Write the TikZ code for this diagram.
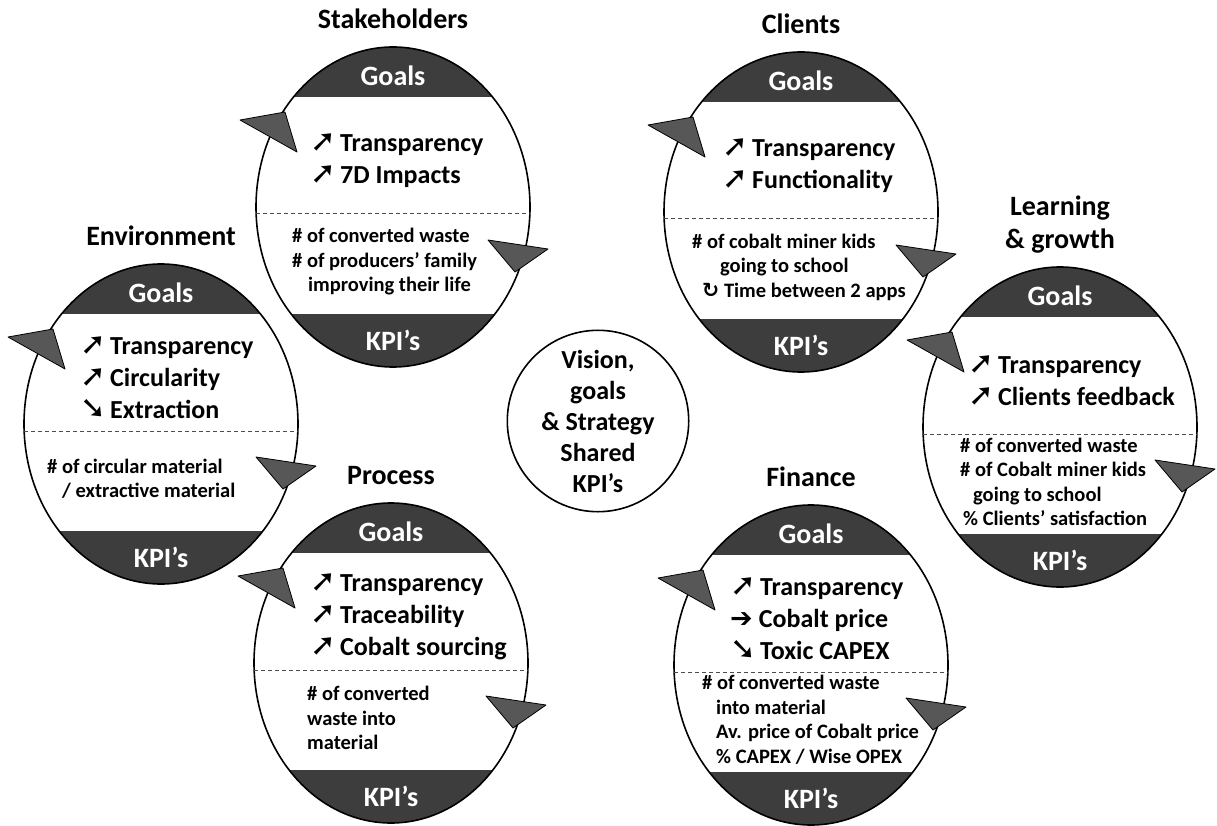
\documentclass[tikz,border=0pt]{standalone}
\usepackage{fontspec}
\setmainfont{Carlito}
\newfontfamily\symfont{DejaVu Sans}
\usetikzlibrary{positioning}

\definecolor{bandgray}{HTML}{3D3D3D}
\definecolor{headgray}{HTML}{575757}

% pfeile vor den zielen
\newcommand\arrowglyph[2]{{\symfont\bfseries\fontsize{#1}{#1}\selectfont #2}}
\newcommand\goup{\arrowglyph{31pt}{➚}\hspace{4pt}}
\newcommand\godown{\arrowglyph{31pt}{➘}\hspace{4pt}}
\newcommand\goflat{\arrowglyph{27pt}{➔}\hspace{6pt}}
\newcommand\gocycle{{\symfont\bfseries ↻}\ }

% #1 name, #2 mitte, #3 titel, #4 x ziele, #5 ziele, #6 x kpi, #7 kpi
\newcommand\kpicard[7]{%
  \begin{scope}[shift={(#2)}]
    \begin{scope}
      \clip (0,0) ellipse [x radius=137pt, y radius=160pt];
      \fill[bandgray] (-140,-165) rectangle (140,-110);
      \fill[bandgray] (-140,107) rectangle (140,165);
    \end{scope}
    \draw[ring] (0,0) ellipse [x radius=137pt, y radius=160pt];
    \draw[splitline] (-137,7) -- (137,7);
    % pfeilspitzen
    \path[head] (-153,-87) -- (-108,-95) -- (-96,-55) -- cycle;
    \path[head] (95,33) -- (155,42) -- (122,65) -- cycle;
    \node[cardtitle] (#1-title) at (0,-178) {#3};
    \node[bandtext] (#1-goals) at (0,-131) {Goals};
    \node[bandtext] (#1-kpis) at (0,133) {KPI’s};
    \node[goaltext] (#1-glist) at (#4,-46) {#5};
    \node[kpitext] (#1-klist) at (#6,55) {#7};
  \end{scope}}

\begin{document}
\begin{tikzpicture}[
      x=1pt, y=-1pt,
      ring/.style={line width=1.6pt},
      splitline/.style={draw=black!70, line width=1pt, dash pattern=on 4pt off 3pt},
      head/.style={fill=headgray, draw=black, line width=0.8pt, line join=round},
      cardtitle/.style={font=\fontsize{28pt}{33pt}\selectfont\bfseries, align=center,
        anchor=south, inner sep=0pt, text depth=0pt},
      bandtext/.style={font=\fontsize{28pt}{30pt}\selectfont\bfseries, text=white, inner sep=0pt},
      goaltext/.style={font=\fontsize{26pt}{32pt}\selectfont\bfseries, align=left, anchor=west, inner sep=0pt},
      kpitext/.style={font=\fontsize{20.5pt}{24.5pt}\selectfont\bfseries, align=left, anchor=west, inner sep=0pt}
    ]
    \fill[white] (0,0) rectangle (1217,825);

    % die sechs perspektiven
    \kpicard{sh}{393,207}{Stakeholders}{-83}{\goup Transparency\\\goup 7D Impacts}
      {-101}{\# of converted waste\\\# of producers’ family\\\hspace*{16pt}improving their life}
    \kpicard{cl}{801,212}{Clients}{-79}{\goup Transparency\\\goup Functionality}
      {-109}{\# of cobalt miner kids\\\hspace*{28pt}going to school\\\hspace*{10pt}\gocycle Time between 2 apps}
    \kpicard{env}{161,424}{Environment}{-81}{\goup Transparency\\\goup Circularity\\\godown Extraction}
      {-114}{\# of circular material\\\hspace*{15pt}/ extractive material}
    \kpicard{pr}{391,663}{Process}{-81}{\goup Transparency\\\goup Traceability\\\goup Cobalt sourcing}
      {-84}{\# of converted\\waste into\\material}
    \kpicard{fi}{811,665}{Finance}{-81}{\goup Transparency\\\goflat Cobalt price\\\godown Toxic CAPEX}
      {-109}{\# of converted waste\\\hspace*{14pt}into material\\\hspace*{14pt}Av. price of Cobalt price\\\hspace*{14pt}\% CAPEX / Wise OPEX}
    \kpicard{lg}{1060,427}{Learning\\\& growth}{-92}{\goup Transparency\\\goup Clients feedback}
      {-100}{\# of converted waste\\\# of Cobalt miner kids\\\hspace*{13pt}going to school\\\hspace*{3pt}\% Clients’ satisfaction}

    % mitte
    \node[draw, circle, line width=1.6pt, minimum size=176pt, inner sep=0pt, align=center,
      font=\fontsize{26pt}{31pt}\selectfont\bfseries] (core) at (598,421)
      {Vision,\\goals\\\& Strategy\\Shared\\KPI’s};
  \end{tikzpicture}
\end{document}
